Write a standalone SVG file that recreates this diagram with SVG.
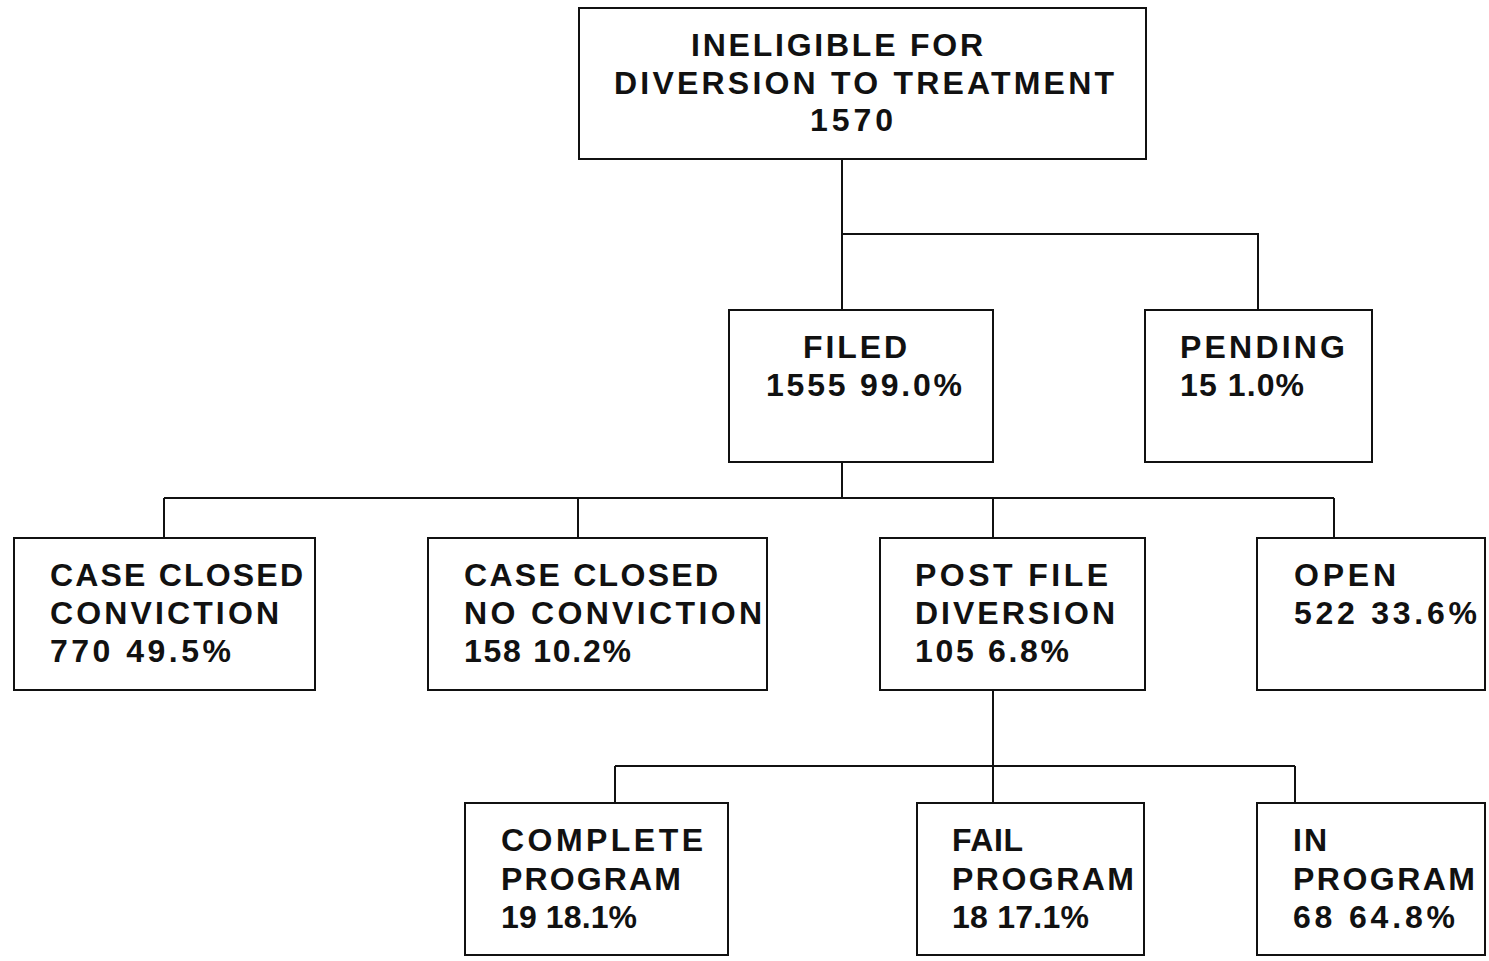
<svg xmlns="http://www.w3.org/2000/svg" width="1489" height="961" viewBox="0 0 1489 961">
<style>
.box{fill:#fff;stroke:#111;stroke-width:2}
.t{font-family:"Liberation Sans",Arial,sans-serif;font-weight:bold;font-size:32px;fill:#111}
.c{fill:none;stroke:#111;stroke-width:2}
</style>
<rect width="1489" height="961" fill="#fff"/>
<g id="connectors">
<path class="c" d="M842 159V310M842 234H1258V310"/>
<path class="c" d="M842 462V498M164 498H1334M164 498V538M578 498V538M993 498V538M1334 498V538"/>
<path class="c" d="M993 690V766M615 766H1295M615 766V803M993 766V803M1295 766V803"/>
</g>
<g id="ineligible">
<rect class="box" x="579" y="8" width="567" height="151"/>
<text class="t" x="691" y="56" textLength="292" lengthAdjust="spacing">INELIGIBLE FOR</text>
<text class="t" x="614" y="94" textLength="500" lengthAdjust="spacing">DIVERSION TO TREATMENT</text>
<text class="t" x="810" y="131" textLength="83" lengthAdjust="spacing">1570</text>
</g>
<g id="filed">
<rect class="box" x="729" y="310" width="264" height="152"/>
<text class="t" x="803" y="358" textLength="104" lengthAdjust="spacing">FILED</text>
<text class="t" x="766" y="396" textLength="196" lengthAdjust="spacing">1555 99.0%</text>
</g>
<g id="pending">
<rect class="box" x="1145" y="310" width="227" height="152"/>
<text class="t" x="1180" y="358" textLength="165" lengthAdjust="spacing">PENDING</text>
<text class="t" x="1180" y="396" textLength="124" lengthAdjust="spacing">15 1.0%</text>
</g>
<g id="closed-conviction">
<rect class="box" x="14" y="538" width="301" height="152"/>
<text class="t" x="50" y="586" textLength="253" lengthAdjust="spacing">CASE CLOSED</text>
<text class="t" x="50" y="624" textLength="229" lengthAdjust="spacing">CONVICTION</text>
<text class="t" x="50" y="662" textLength="181" lengthAdjust="spacing">770 49.5%</text>
</g>
<g id="closed-no-conviction">
<rect class="box" x="428" y="538" width="339" height="152"/>
<text class="t" x="464" y="586" textLength="254" lengthAdjust="spacing">CASE CLOSED</text>
<text class="t" x="464" y="624" textLength="298" lengthAdjust="spacing">NO CONVICTION</text>
<text class="t" x="464" y="662" textLength="167" lengthAdjust="spacing">158 10.2%</text>
</g>
<g id="post-file">
<rect class="box" x="880" y="538" width="265" height="152"/>
<text class="t" x="915" y="586" textLength="193" lengthAdjust="spacing">POST FILE</text>
<text class="t" x="915" y="624" textLength="200" lengthAdjust="spacing">DIVERSION</text>
<text class="t" x="915" y="662" textLength="154" lengthAdjust="spacing">105 6.8%</text>
</g>
<g id="open">
<rect class="box" x="1257" y="538" width="228" height="152"/>
<text class="t" x="1294" y="586" textLength="102" lengthAdjust="spacing">OPEN</text>
<text class="t" x="1294" y="624" textLength="183" lengthAdjust="spacing">522 33.6%</text>
</g>
<g id="complete">
<rect class="box" x="465" y="803" width="263" height="152"/>
<text class="t" x="501" y="851" textLength="202" lengthAdjust="spacing">COMPLETE</text>
<text class="t" x="501" y="890" textLength="180" lengthAdjust="spacing">PROGRAM</text>
<text class="t" x="501" y="928" textLength="136" lengthAdjust="spacing">19 18.1%</text>
</g>
<g id="fail">
<rect class="box" x="917" y="803" width="227" height="152"/>
<text class="t" x="952" y="851" textLength="71" lengthAdjust="spacing">FAIL</text>
<text class="t" x="952" y="890" textLength="182" lengthAdjust="spacing">PROGRAM</text>
<text class="t" x="952" y="928" textLength="137" lengthAdjust="spacing">18 17.1%</text>
</g>
<g id="in-program">
<rect class="box" x="1257" y="803" width="228" height="152"/>
<text class="t" x="1293" y="851" textLength="34" lengthAdjust="spacing">IN</text>
<text class="t" x="1293" y="890" textLength="182" lengthAdjust="spacing">PROGRAM</text>
<text class="t" x="1293" y="928" textLength="162" lengthAdjust="spacing">68 64.8%</text>
</g>
</svg>
